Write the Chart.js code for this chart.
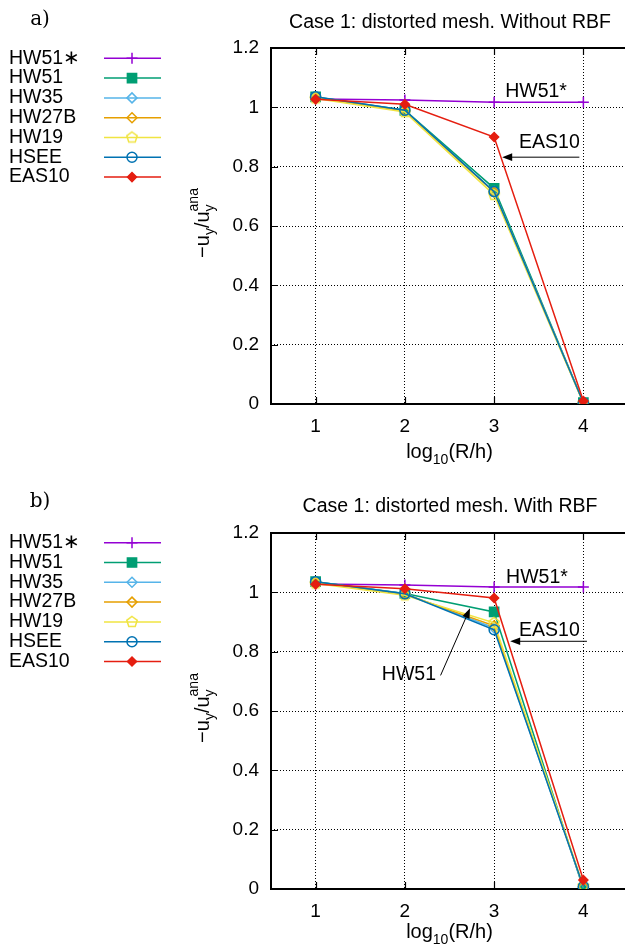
<!DOCTYPE html>
<html>
<head>
<meta charset="utf-8">
<title>Case 1: distorted mesh</title>
<script src="https://cdn.jsdelivr.net/npm/chart.js@4.4.1/dist/chart.umd.min.js"></script>
<style>
  html, body { margin: 0; padding: 0; background: #fff; overflow: hidden; }
  .panel { position: absolute; left: 0; width: 636px; height: 475px; }
  #panelA { top: 0; }
  #panelB { top: 475px; }
</style>
</head>
<body>
<div class="panel" id="panelA"><canvas id="chartA" width="636" height="475"></canvas></div>
<div class="panel" id="panelB"><canvas id="chartB" width="636" height="475"></canvas></div>
<script>
// x values: log10(R/h)
const xValues = [1, 2, 3, 4];
const xTicks = [1, 2, 3, 4];
const yTicks = [0, 0.2, 0.4, 0.6, 0.8, 1.0, 1.2];

const seriesNames = ['HW51∗', 'HW51', 'HW35', 'HW27B', 'HW19', 'HSEE', 'EAS10'];

// a) Without RBF
const hw51sA = [1.028, 1.025, 1.017, 1.017];
const hw51A  = [1.035, 0.990, 0.727, 0.005];
const hw35A  = [1.034, 0.989, 0.716, 0.004];
const hw27bA = [1.033, 0.988, 0.714, 0.004];
const hw19A  = [1.030, 0.984, 0.705, 0.003];
const hseeA  = [1.036, 0.990, 0.716, 0.004];
const eas10A = [1.027, 1.010, 0.900, 0.010];

// b) With RBF
const hw51sB = [1.028, 1.025, 1.018, 1.018];
const hw51B  = [1.036, 0.996, 0.934, 0.000];
const hw35B  = [1.035, 0.995, 0.880, 0.005];
const hw27bB = [1.034, 0.994, 0.887, 0.008];
const hw19B  = [1.030, 0.990, 0.897, 0.010];
const hseeB  = [1.036, 0.995, 0.874, 0.008];
const eas10B = [1.027, 1.012, 0.981, 0.030];

const FONT = '"Liberation Sans", Arial, Helvetica, sans-serif';

// gnuplot-like palette
const seriesColors = ['#9400d3', '#009e73', '#56b4e9', '#e69f00', '#f0e442', '#0072b2', '#e51e10'];

// Hollow pentagon marker for HW19 (no built-in pentagon style)
function makePentagon(color, r, lw) {
  const s = Math.ceil(2 * r + 2 * lw + 2);
  const c = document.createElement('canvas');
  c.width = s;
  c.height = s;
  const g = c.getContext('2d');
  g.strokeStyle = color;
  g.lineWidth = lw;
  g.beginPath();
  for (let k = 0; k < 5; k++) {
    const ang = -Math.PI / 2 + k * 2 * Math.PI / 5;
    const px = s / 2 + r * Math.cos(ang);
    const py = s / 2 + r * Math.sin(ang);
    if (k === 0) g.moveTo(px, py); else g.lineTo(px, py);
  }
  g.closePath();
  g.stroke();
  return c;
}

const pentagon = makePentagon(seriesColors[4], 5.5, 1.5);
const seriesMarkers = ['cross', 'rect', 'rectRot', 'rectRot', pentagon, 'circle', 'rectRot'];
const seriesRadius  = [5.5, 6.5, 5, 5, 6, 5, 4.5];
const seriesFill = ['rgba(0,0,0,0)', seriesColors[1], 'rgba(0,0,0,0)', 'rgba(0,0,0,0)',
                    'rgba(0,0,0,0)', 'rgba(0,0,0,0)', seriesColors[6]];

function makeDatasets(values) {
  return seriesNames.map((name, i) => ({
    label: name,
    data: xValues.map((xv, j) => ({ x: xv, y: values[i][j] })),
    borderColor: seriesColors[i],
    backgroundColor: seriesFill[i],
    borderWidth: 1.5,
    pointStyle: seriesMarkers[i],
    pointRadius: seriesRadius[i],
    pointBorderWidth: 1.5,
    pointBorderColor: seriesColors[i],
    pointBackgroundColor: seriesFill[i],
    tension: 0,
    // later series drawn on top, like gnuplot
    order: seriesNames.length - i
  }));
}

function drawArrow(ctx, x1, y1, x2, y2) {
  const ang = Math.atan2(y2 - y1, x2 - x1);
  const len = 10, half = 3.8;
  ctx.beginPath();
  ctx.moveTo(x1, y1);
  ctx.lineTo(x2 - len * 0.8 * Math.cos(ang), y2 - len * 0.8 * Math.sin(ang));
  ctx.stroke();
  ctx.beginPath();
  ctx.moveTo(x2, y2);
  ctx.lineTo(x2 - len * Math.cos(ang) + half * Math.sin(ang), y2 - len * Math.sin(ang) - half * Math.cos(ang));
  ctx.lineTo(x2 - len * Math.cos(ang) - half * Math.sin(ang), y2 - len * Math.sin(ang) + half * Math.cos(ang));
  ctx.closePath();
  ctx.fill();
}

const decorPlugin = {
  id: 'decor',
  beforeDatasetsDraw(chart) {
    const { ctx, chartArea: a, scales: { x, y } } = chart;
    ctx.save();
    ctx.strokeStyle = '#000';
    ctx.lineWidth = 2;
    ctx.strokeRect(a.left, a.top, a.right - a.left, a.bottom - a.top);
    // inward major ticks
    ctx.lineWidth = 1.2;
    ctx.beginPath();
    xTicks.forEach(v => {
      const px = Math.round(x.getPixelForValue(v)) + 0.5;
      ctx.moveTo(px, a.bottom); ctx.lineTo(px, a.bottom - 7);
      ctx.moveTo(px, a.top); ctx.lineTo(px, a.top + 7);
    });
    yTicks.forEach(v => {
      const py = Math.round(y.getPixelForValue(v)) + 0.5;
      ctx.moveTo(a.left, py); ctx.lineTo(a.left + 7, py);
    });
    ctx.stroke();
    ctx.restore();
  },
  afterDatasetsDraw(chart, args, opts) {
    const { ctx, chartArea: a, scales: { x, y } } = chart;
    ctx.save();
    ctx.fillStyle = '#000';
    ctx.strokeStyle = '#000';
    ctx.lineWidth = 1;

    // in-plot labels and arrows
    ctx.font = '19.5px ' + FONT;
    ctx.textAlign = 'center';
    ctx.textBaseline = 'middle';
    (opts.notes || []).forEach(n => {
      ctx.fillText(n.text, x.getPixelForValue(n.x), y.getPixelForValue(n.y));
    });
    (opts.arrows || []).forEach(r => {
      drawArrow(ctx, x.getPixelForValue(r.from[0]), y.getPixelForValue(r.from[1]),
                x.getPixelForValue(r.to[0]), y.getPixelForValue(r.to[1]));
    });

    // panel letter
    ctx.font = '20px "DejaVu Serif", "Liberation Serif", serif';
    ctx.textAlign = 'center';
    ctx.fillText(opts.panel, 40, opts.panelY);

    // title
    ctx.font = '19.5px ' + FONT;
    ctx.fillText(opts.title, 450, opts.titleY);

    // x axis label: log10(R/h)
    const cx = (a.left + a.right) / 2;
    const xb = a.bottom + opts.xLabelGap;
    ctx.textBaseline = 'alphabetic';
    ctx.textAlign = 'left';
    ctx.font = '20px ' + FONT;
    const wLog = ctx.measureText('log').width;
    const wRest = ctx.measureText('(R/h)').width;
    ctx.font = '14px ' + FONT;
    const wSub = ctx.measureText('10').width;
    let px = cx - (wLog + wSub + wRest) / 2;
    ctx.font = '20px ' + FONT;
    ctx.fillText('log', px, xb);
    px += wLog;
    ctx.font = '14px ' + FONT;
    ctx.fillText('10', px, xb + 6);
    px += wSub;
    ctx.font = '20px ' + FONT;
    ctx.fillText('(R/h)', px, xb);

    // y axis label: -u_y/u_y^ana (rotated)
    ctx.translate(209, (a.top + a.bottom) / 2 - 3);
    ctx.rotate(-Math.PI / 2);
    const parts = [
      { t: '\u2212u', f: 20, dy: 0 },
      { t: 'y', f: 14, dy: 5 },
      { t: '/u', f: 20, dy: 0 },
      { t: 'y', f: 14, dy: 5, sup: 'ana' }
    ];
    let total = 0;
    parts.forEach(p => {
      ctx.font = p.f + 'px ' + FONT;
      p.w = ctx.measureText(p.t).width;
      if (p.sup) {
        ctx.font = '14px ' + FONT;
        p.w = Math.max(p.w, ctx.measureText(p.sup).width);
      }
      total += p.w;
    });
    let tx = -total / 2;
    parts.forEach(p => {
      ctx.font = p.f + 'px ' + FONT;
      ctx.fillText(p.t, tx, p.dy);
      if (p.sup) {
        ctx.font = '14px ' + FONT;
        ctx.fillText(p.sup, tx, -11);
      }
      tx += p.w;
    });
    ctx.setTransform(1, 0, 0, 1, 0, 0);

    // legend at the left
    ctx.textBaseline = 'middle';
    ctx.textAlign = 'left';
    seriesNames.forEach((name, i) => {
      const ry = opts.legendTop + i * 19.8;
      ctx.font = '19.5px ' + FONT;
      ctx.fillStyle = '#000';
      ctx.fillText(name, 9, ry);
      ctx.strokeStyle = seriesColors[i];
      ctx.lineWidth = 1.5;
      ctx.beginPath();
      ctx.moveTo(104, ry);
      ctx.lineTo(161, ry);
      ctx.stroke();
      ctx.fillStyle = seriesFill[i];
      Chart.helpers.drawPoint(ctx, {
        pointStyle: seriesMarkers[i],
        radius: seriesRadius[i],
        rotation: 0,
        borderWidth: 1.5
      }, 132, ry);
    });
    ctx.restore();
  }
};

function buildChart(canvasId, values, cfg) {
  return new Chart(document.getElementById(canvasId), {
    type: 'line',
    data: { datasets: makeDatasets(values) },
    plugins: [decorPlugin],
    options: {
      responsive: false,
      animation: false,
      devicePixelRatio: 1,
      layout: { padding: { top: cfg.top, right: 0, left: 0, bottom: 0 } },
      plugins: {
        legend: { display: false },
        tooltip: { enabled: false },
        decor: cfg.decor
      },
      scales: {
        x: {
          type: 'linear',
          min: 0.5,
          max: 4.5,
          afterBuildTicks: s => { s.ticks = xTicks.map(v => ({ value: v })); },
          afterFit: s => { s.height = cfg.xAxisHeight; },
          grid: { color: '#000', lineWidth: 1, drawTicks: false, tickLength: 0 },
          border: { display: false, dash: [1, 2] },
          ticks: { padding: 11, color: '#000', font: { family: FONT, size: 19 }, callback: v => String(v) }
        },
        y: {
          type: 'linear',
          min: 0,
          max: 1.2,
          afterBuildTicks: s => { s.ticks = yTicks.map(v => ({ value: v })); },
          afterFit: s => { s.width = 271; },
          grid: { color: '#000', lineWidth: 1, drawTicks: false, tickLength: 0 },
          border: { display: false, dash: [1, 2] },
          ticks: { padding: 12, color: '#000', font: { family: FONT, size: 19 },
                   callback: v => String(Number(v.toFixed(1))) }
        }
      }
    }
  });
}

buildChart('chartA', [hw51sA, hw51A, hw35A, hw27bA, hw19A, hseeA, eas10A], {
  top: 48,
  xAxisHeight: 71,
  decor: {
    panel: 'a)', panelY: 20,
    title: 'Case 1: distorted mesh. Without RBF', titleY: 23,
    xLabelGap: 54,
    legendTop: 58.3,
    notes: [
      { text: 'HW51*', x: 3.47, y: 1.052 },
      { text: 'EAS10', x: 3.62, y: 0.88 }
    ],
    arrows: [
      { from: [3.955, 0.832], to: [3.09, 0.832] }
    ]
  }
});

buildChart('chartB', [hw51sB, hw51B, hw35B, hw27bB, hw19B, hseeB, eas10B], {
  top: 58,
  xAxisHeight: 61,
  decor: {
    panel: 'b)', panelY: 27,
    title: 'Case 1: distorted mesh. With RBF', titleY: 32,
    xLabelGap: 49,
    legendTop: 67.7,
    notes: [
      { text: 'HW51*', x: 3.48, y: 1.05 },
      { text: 'EAS10', x: 3.62, y: 0.872 },
      { text: 'HW51', x: 2.045, y: 0.724 }
    ],
    arrows: [
      { from: [4.04, 0.835], to: [3.18, 0.835] },
      { from: [2.40, 0.72], to: [2.73, 0.946] }
    ]
  }
});
</script>
</body>
</html>
